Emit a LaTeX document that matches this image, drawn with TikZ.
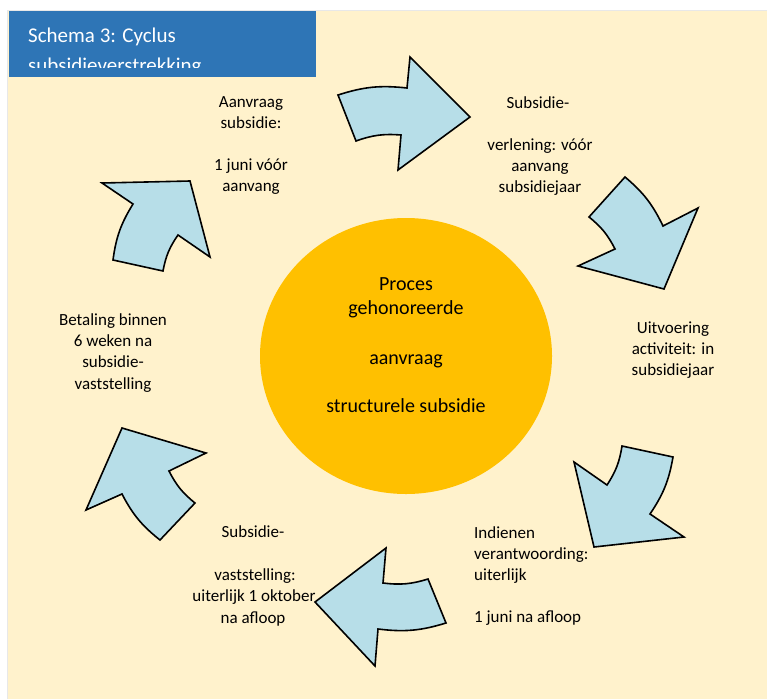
\documentclass[tikz,border=0pt]{standalone}
\usepackage{fontspec}
\setmainfont{Carlito}
\usetikzlibrary{positioning, shapes.geometric}
\definecolor{cream}{RGB}{255,242,204}
\definecolor{titleblue}{RGB}{46,117,182}
\definecolor{arrowblue}{RGB}{183,222,232}
\definecolor{kernel}{RGB}{255,192,0}

\begin{document}
\begin{tikzpicture}[x=1pt, y=-1pt]
	% Setup the styles
	\tikzset{arrow shape/.style={draw=black,
								line width=1.6pt,
								line join=miter,
								fill=arrowblue},
			 step label/.style={font=\fontsize{17}{21}\selectfont,
								inner sep=0pt, anchor=base},
			 core label/.style={font=\fontsize{20}{24}\selectfont,
								inner sep=0pt, anchor=base},
			 title label/.style={font=\fontsize{21}{30}\selectfont,
								text=white, inner sep=0pt, anchor=base west}}
	\useasboundingbox (0,0) rectangle (767,699);
	% Background and title
	\fill[white] (0,0) rectangle (767,699);
	\fill[cream] (8,11) rectangle (767,699);
	\draw[gray!18, line width=1.5pt] (7.5,699) -- (7.5,10.5) -- (767,10.5);
	\fill[titleblue] (9,11) rectangle (316,77);
	\begin{scope}
		\clip (9,11) rectangle (316,67);
		\node[title label] (titel1) at (28,42) {Schema 3: Cyclus};
		\node[title label] (titel2) at (28,72) {subsidieverstrekking};
	\end{scope}
	% The core
	\node[ellipse, fill=kernel, minimum width=292pt, minimum height=276pt] (proces) at (406,356) {};
	\foreach \y/\t in {290/Proces, 314/gehonoreerde, 364/aanvraag, 412/structurele subsidie}
		\node[core label] (proces-\y) at (406,\y) {\t};
	% The six arrows
	\draw[arrow shape] (338,95) to[bend left=12] (407,88) -- (410,57) -- (470,117)
		-- (398,170) -- (401,135) to[bend right=12] (356,141) -- cycle;
	\draw[arrow shape] (625,177) to[bend left=12] (663,226) -- (698,208) -- (664,289)
		-- (578,266) -- (615,249) to[bend right=12] (589,217) -- cycle;
	\draw[arrow shape] (673,457) to[bend left=12] (650,514) -- (684,537) -- (594,547)
		-- (574,462) -- (607,485) to[bend right=12] (622,446) -- cycle;
	\draw[arrow shape] (446,623) to[bend left=12] (378,629) -- (375,666) -- (315,602)
		-- (386,548) -- (383,583) to[bend right=12] (428,579) -- cycle;
	\draw[arrow shape] (160,540) to[bend left=12] (122,494) -- (86,510) -- (122,428)
		-- (206,453) -- (169,471) to[bend right=12] (195,503) -- cycle;
	\draw[arrow shape] (113,260) to[bend left=12] (133,204) -- (102,183) -- (190,181)
		-- (210,257) -- (178,235) to[bend right=12] (163,271) -- cycle;
	% The steps
	\foreach \x/\y/\t in {251/107/Aanvraag, 251/128/subsidie:, 251/170/1 juni vóór, 251/191/aanvang}
		\node[step label] (aanvraag-\y) at (\x,\y) {\t};
	\foreach \x/\y/\t in {538/108/Subsidie-, 540/150/verlening: vóór, 540/171/aanvang, 540/192/subsidiejaar}
		\node[step label] (verlening-\y) at (\x,\y) {\t};
	\foreach \x/\y/\t in {673/333/Uitvoering, 673/354/activiteit: in, 673/375/subsidiejaar}
		\node[step label] (uitvoering-\y) at (\x,\y) {\t};
	\foreach \x/\y/\t in {474/538/Indienen, 474/559/verantwoording:, 474/580/uiterlijk, 474/622/1 juni na afloop}
		\node[step label, anchor=base west] (indienen-\y) at (\x,\y) {\t};
	\foreach \x/\y/\t in {253/537/Subsidie-, 255/580/vaststelling:, 254/601/uiterlijk 1 oktober, 253/623/na afloop}
		\node[step label] (vaststelling-\y) at (\x,\y) {\t};
	\foreach \x/\y/\t in {113/325/Betaling binnen, 113/346/6 weken na, 113/367/subsidie-, 113/389/vaststelling}
		\node[step label] (betaling-\y) at (\x,\y) {\t};
\end{tikzpicture}
\end{document}
